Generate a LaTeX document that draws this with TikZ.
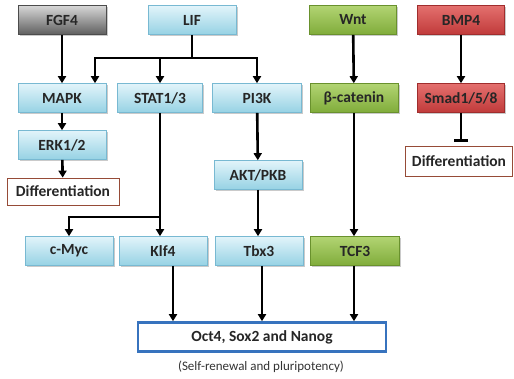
\documentclass[tikz,border=0pt]{standalone}
\usepackage{fontspec}
\setmainfont{Carlito}
\usetikzlibrary{arrows.meta,shadows}

\definecolor{bluetop}{RGB}{226,244,250}
\definecolor{bluebot}{RGB}{150,210,228}
\definecolor{blueedge}{RGB}{120,185,210}
\definecolor{greentop}{RGB}{178,212,115}
\definecolor{greenbot}{RGB}{128,172,58}
\definecolor{greenedge}{RGB}{105,145,45}
\definecolor{redtop}{RGB}{228,112,110}
\definecolor{redbot}{RGB}{192,58,58}
\definecolor{rededge}{RGB}{160,45,45}
\definecolor{graytop}{RGB}{215,215,215}
\definecolor{graybot}{RGB}{95,95,95}
\definecolor{diffedge}{RGB}{150,75,55}
\definecolor{octedge}{RGB}{55,115,190}

\tikzset{
  lbl/.style={font=\bfseries\fontsize{15.5}{17}\selectfont, text=black!85},
  box/.style={rectangle, minimum width=88pt, minimum height=29pt, inner sep=0pt, lbl,
    drop shadow={shadow xshift=1.5pt, shadow yshift=-1.5pt, opacity=0.35, fill=black!60}},
  bluebox/.style={box, top color=bluetop, bottom color=bluebot, draw=blueedge, line width=0.6pt},
  greenbox/.style={box, top color=greentop, bottom color=greenbot, draw=greenedge, line width=0.6pt},
  redbox/.style={box, top color=redtop, bottom color=redbot, draw=rededge, line width=0.6pt},
  graybox/.style={box, top color=graytop, bottom color=graybot, draw=black!70, line width=0.6pt},
  diffbox/.style={rectangle, inner sep=0pt, fill=white, draw=diffedge, line width=0.7pt, lbl},
  conn/.style={line width=2.6pt, black},
  arr/.style={conn, -{Triangle[width=8pt,length=7pt]}},
  inhib/.style={conn, -{Bar[width=14pt,line width=3pt]}}
}

\begin{document}
\begin{tikzpicture}[x=1pt,y=-1pt]
  \useasboundingbox (0,0) rectangle (514,378);

  % top row: signals
  \node[graybox]  (fgf4) at (62,20)  {FGF4};
  \node[bluebox]  (lif)  at (192,20) {LIF};
  \node[greenbox, minimum width=87pt] (wnt)  at (353,20) {Wnt};
  \node[redbox, minimum width=87pt]   (bmp4) at (461,20) {BMP4};

  % second row
  \node[bluebox]  (mapk) at (62,98)  {MAPK};
  \node[bluebox, minimum width=85pt] (stat) at (160,98) {STAT1/3};
  \node[bluebox, minimum width=89pt] (pi3k) at (257,98) {PI3K};
  \node[greenbox] (bcat) at (354,98) {β-catenin};
  \node[redbox, minimum width=87pt]  (smad) at (461,98) {Smad1/5/8};

  % intermediates
  \node[bluebox]  (erk)  at (62,145)  {ERK1/2};
  \node[bluebox]  (akt)  at (258,175) {AKT/PKB};
  \node[diffbox, minimum width=112pt, minimum height=27pt] (diffL) at (63,191.5) {Differentiation};
  \node[diffbox, minimum width=107pt, minimum height=30pt] (diffR) at (459,161) {Differentiation};

  % targets
  \node[bluebox]  (cmyc) at (69,251)  {c-Myc};
  \node[bluebox]  (klf4) at (163,251) {Klf4};
  \node[bluebox]  (tbx3) at (259,251) {Tbx3};
  \node[greenbox, minimum width=89pt] (tcf3) at (355,251) {TCF3};

  % core network
  \node[rectangle, minimum width=248pt, minimum height=29pt, inner sep=0pt, fill=white,
        draw=octedge, line width=2.6pt, lbl]
        (oct) at (262,337) {Oct4, Sox2 and Nanog};
  \node[font=\fontsize{13}{15}\selectfont, text=black!80] (cap) at (261,367)
        {(Self-renewal and pluripotency)};

  % junction points
  \coordinate (lifj)  at (192,58);
  \coordinate (mapkx) at (95,0);
  \coordinate (statj) at (160,217);

  % FGF4 branch
  \draw[arr] (fgf4) -- (mapk);
  \draw[arr] (mapk) -- (erk);
  \draw[arr] (erk) -- (diffL);

  % LIF branches
  \draw[conn] (lif.south) -- (lifj);
  \draw[arr] (lifj) -| (mapkx |- mapk.north);
  \draw[arr] (lifj) -| (pi3k.north);
  \draw[arr] (lifj -| stat.north) -- (stat.north);
  \draw[conn] (lifj -| mapkx) -- (lifj -| pi3k.north);

  % STAT1/3 targets
  \draw[arr] (stat.south) -- (stat.south |- klf4.north);
  \draw[arr] (statj) -| (cmyc.north);

  % PI3K branch
  \draw[arr] (pi3k) -- (akt);
  \draw[arr] (akt) -- (akt.south |- tbx3.north);

  % Wnt branch
  \draw[arr] (wnt) -- (bcat);
  \draw[arr] (bcat) -- (bcat.south |- tcf3.north);

  % BMP4 branch
  \draw[arr] (bmp4) -- (smad);
  \draw[inhib] (smad.south) -- ([yshift=4pt]smad.south |- diffR.north);

  % into the core network
  \draw[arr] ([xshift=10pt]klf4.south) -- ([xshift=10pt]klf4.south |- oct.north);
  \draw[arr] ([xshift=3pt]tbx3.south) -- ([xshift=3pt]tbx3.south |- oct.north);
  \draw[arr] ([xshift=-1pt]tcf3.south) -- ([xshift=-1pt]tcf3.south |- oct.north);
\end{tikzpicture}
\end{document}
